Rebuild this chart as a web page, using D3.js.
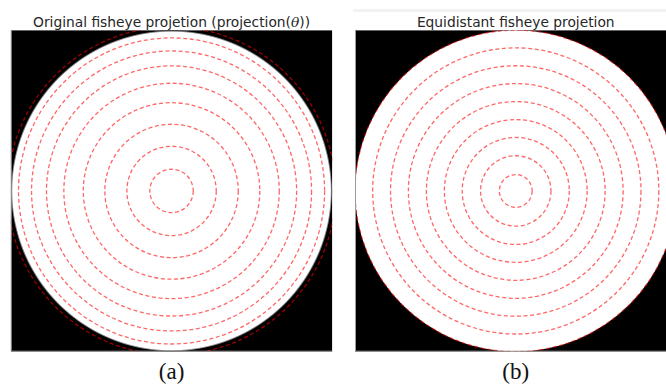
<!DOCTYPE html>
<html>
<head>
<meta charset="utf-8">
<script src="https://cdn.jsdelivr.net/npm/d3@7"></script>
<style>
  body { margin: 0; background: #fff; }
  svg { display: block; }
</style>
</head>
<body>
<svg width="666" height="385"></svg>
<script>
// incidence angles of the rings (deg) and their radius, as fraction of the image circle
var thetaDeg = [10, 20, 30, 40, 50, 60, 70, 80, 90];
var originalRadius = [0.135, 0.278, 0.415, 0.549, 0.670, 0.778, 0.871, 0.952, 1.020];
var equidistantRadius = [0.102, 0.219, 0.333, 0.444, 0.556, 0.668, 0.779, 0.890, 1.000];

var panelTitles = ["Original fisheye projetion (projection(", "Equidistant fisheye projetion"];
var panelLabels = ["(a)", "(b)"];

var svg = d3.select("svg"),
	width = +svg.attr("width"),
	height = +svg.attr("height");

var size = 321.5,
	top0 = 30.2;

var panels = [
	{ x0: 10.8, radii: originalRadius, title: panelTitles[0], label: panelLabels[0], soft: true },
	{ x0: 355.0, radii: equidistantRadius, title: panelTitles[1], label: panelLabels[1], soft: false }
];

// faint strip above the second title
svg.append("rect").attr("x", 353).attr("y", 9).attr("width", width - 353).attr("height", 3).attr("fill", "#f2f2f2");

var defs = svg.append("defs");
var grad = defs.append("radialGradient").attr("id", "softdisc");
grad.append("stop").attr("offset", "0.988").attr("stop-color", "#fff");
grad.append("stop").attr("offset", "1").attr("stop-color", "#000");

panels.forEach(function (p, i) {
	var x = d3.scaleLinear().domain([-1, 1]).range([p.x0, p.x0 + size]),
		y = d3.scaleLinear().domain([-1, 1]).range([top0 + size, top0]),
		r = d3.scaleLinear().domain([0, 1]).range([0, size / 2]);

	defs.append("clipPath").attr("id", "clip" + i)
		.append("rect").attr("x", x(-1)).attr("y", y(1)).attr("width", size).attr("height", size);

	var g = svg.append("g").attr("clip-path", "url(#clip" + i + ")");

	g.append("rect").attr("x", x(-1)).attr("y", y(1)).attr("width", size).attr("height", size).attr("fill", "#000");

	g.append("circle")
		.attr("cx", x(0)).attr("cy", y(0)).attr("r", r(1))
		.attr("fill", p.soft ? "url(#softdisc)" : "#fff");

	g.selectAll(".ring").data(p.radii).enter().append("circle")
		.attr("class", "ring")
		.attr("cx", x(0)).attr("cy", y(0))
		.attr("r", function (d) { return r(d); })
		.attr("fill", "none")
		.attr("stroke", "red")
		.attr("stroke-opacity", 0.6)
		.attr("stroke-width", 1.3)
		.attr("stroke-dasharray", "4,2.6");

	// thin grey frame on left and bottom edges
	svg.append("path")
		.attr("d", "M" + (x(-1) + 0.5) + "," + y(1) + "V" + (y(-1) - 0.5) + "H" + Math.min(x(1), width))
		.attr("fill", "none").attr("stroke", "#9a9a9a").attr("stroke-width", 1);

	var t = svg.append("text")
		.attr("x", x(0)).attr("y", 27)
		.attr("text-anchor", "middle")
		.attr("font-family", "DejaVu Sans")
		.attr("font-size", 13.8)
		.attr("fill", "#262626")
		.text(p.title);
	if (i === 0) {
		t.append("tspan").attr("font-style", "italic").attr("font-family", "DejaVu Serif").text("\u03b8");
		t.append("tspan").text("))");
	}

	svg.append("text")
		.attr("x", x(0)).attr("y", 378.5)
		.attr("text-anchor", "middle")
		.attr("font-family", "Liberation Serif")
		.attr("font-size", 23)
		.attr("fill", "#111")
		.text(p.label);
});
</script>
</body>
</html>
